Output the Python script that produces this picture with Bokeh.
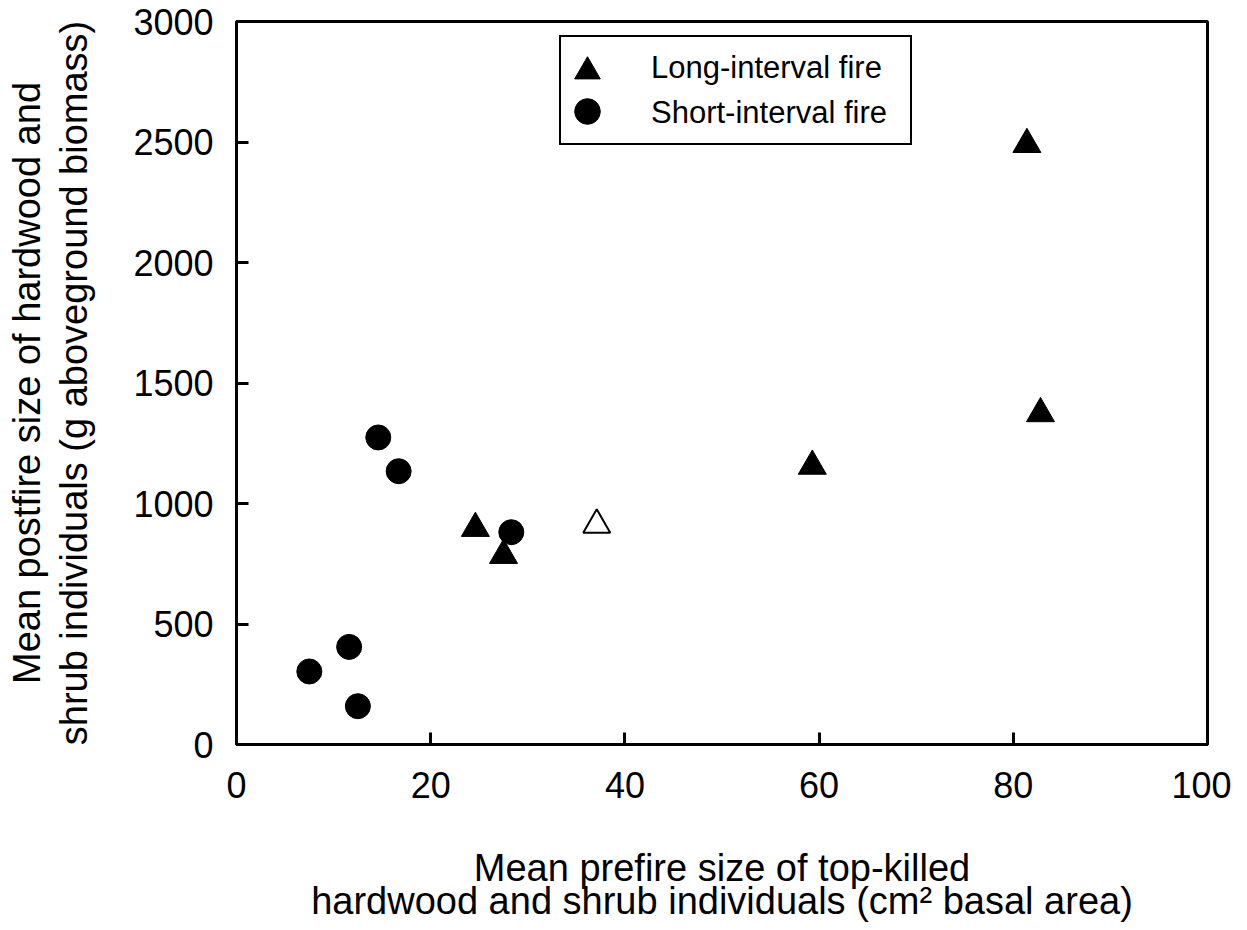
from bokeh.plotting import figure
from bokeh.models import Range1d, FixedTicker, Legend, LegendItem
from bokeh.embed import file_html
from bokeh.resources import INLINE

# Long-interval fire (filled triangles)
long_x = [24.6, 27.5, 59.3, 81.4, 82.8]
long_y = [897, 785, 1155, 2490, 1373]
# Long-interval fire, open symbol
open_x = [37.1]
open_y = [911]
# Short-interval fire (filled circles)
short_x = [7.5, 11.6, 12.5, 14.6, 16.7, 28.3]
short_y = [303, 405, 159, 1274, 1134, 881]

x_ticks = [0, 20, 40, 60, 80, 100]
y_ticks = [0, 500, 1000, 1500, 2000, 2500, 3000]

legend_labels = ["Long-interval fire", "Short-interval fire"]
x_label = "Mean prefire size of top-killed\nhardwood and shrub individuals (cm\u00b2 basal area)"
y_label = "Mean postfire size of hardwood and\nshrub individuals (g aboveground biomass)"

FONT = "Liberation Sans"

p = figure(frame_width=971, frame_height=723,
           x_range=Range1d(0, 100), y_range=Range1d(0, 3000),
           output_backend="svg", toolbar_location=None,
           min_border_left=236, min_border_right=24,
           min_border_top=21, min_border_bottom=170,
           background_fill_color="white", border_fill_color="white")

p.xgrid.visible = False
p.ygrid.visible = False
p.outline_line_color = "black"
p.outline_line_width = 3
p.outline_line_alpha = 1.0

for ax in (p.xaxis[0], p.yaxis[0]):
    ax.axis_line_width = 3
    ax.axis_line_color = "black"
    ax.major_tick_in = 12
    ax.major_tick_out = 0
    ax.major_tick_line_width = 3
    ax.major_tick_line_color = "black"
    ax.minor_tick_line_color = None
    ax.major_label_text_font = FONT
    ax.major_label_text_font_size = "36px"
    ax.major_label_text_color = "black"
    ax.axis_label_text_font = FONT
    ax.axis_label_text_font_size = "38px"
    ax.axis_label_text_font_style = "normal"
    ax.axis_label_text_color = "black"

p.xaxis[0].ticker = FixedTicker(ticks=x_ticks)
p.yaxis[0].ticker = FixedTicker(ticks=y_ticks)
p.xaxis[0].major_label_standoff = 27
p.yaxis[0].major_label_standoff = 23
p.xaxis[0].axis_label = x_label
p.yaxis[0].axis_label = y_label
p.xaxis[0].axis_label_standoff = 46
p.yaxis[0].axis_label_standoff = 35
p.xaxis[0].axis_label_text_line_height = 0.80
p.yaxis[0].axis_label_text_line_height = 1.12

r_long = p.scatter(long_x, long_y, marker="triangle", size=28,
                   fill_color="black", line_color="black", line_width=1)
r_open = p.scatter(open_x, open_y, marker="triangle", size=27,
                   fill_color="white", line_color="black", line_width=2)
r_short = p.scatter(short_x, short_y, marker="circle", size=25,
                    fill_color="black", line_color="black", line_width=1)

# invisible stand-ins so the framed legend carries only box and labels
blank_long = p.scatter(x=[], y=[], marker="triangle", fill_alpha=0, line_alpha=0)
blank_short = p.scatter(x=[], y=[], marker="circle", fill_alpha=0, line_alpha=0)

legend = Legend(items=[LegendItem(label=legend_labels[0], renderers=[blank_long]),
                       LegendItem(label=legend_labels[1], renderers=[blank_short])],
                location=(323, 599))
legend.glyph_width = 40
legend.glyph_height = 45
legend.label_height = 45
legend.label_width = 251
legend.spacing = 0
legend.padding = 8
legend.margin = 0
legend.label_standoff = 42
legend.label_text_font = FONT
legend.label_text_font_size = "31px"
legend.label_text_color = "black"
legend.border_line_color = "black"
legend.border_line_alpha = 1.0
legend.border_line_width = 2
legend.background_fill_color = "white"
legend.background_fill_alpha = 1.0
p.add_layout(legend, "center")

# full-size legend symbols, drawn on top of the framed legend
for rend, loc in ((r_long, (319, 641)), (r_short, (319, 601))):
    sym = Legend(items=[LegendItem(label=" ", renderers=[rend])], location=loc)
    sym.glyph_width = 64
    sym.glyph_height = 64
    sym.label_height = 20
    sym.label_width = 1
    sym.label_standoff = 0
    sym.padding = 0
    sym.margin = 0
    sym.spacing = 0
    sym.label_text_font_size = "1px"
    sym.label_text_alpha = 0
    sym.border_line_color = None
    sym.background_fill_color = None
    sym.background_fill_alpha = 0
    p.add_layout(sym, "center")

open("out.html", "w").write(file_html(p, INLINE))
